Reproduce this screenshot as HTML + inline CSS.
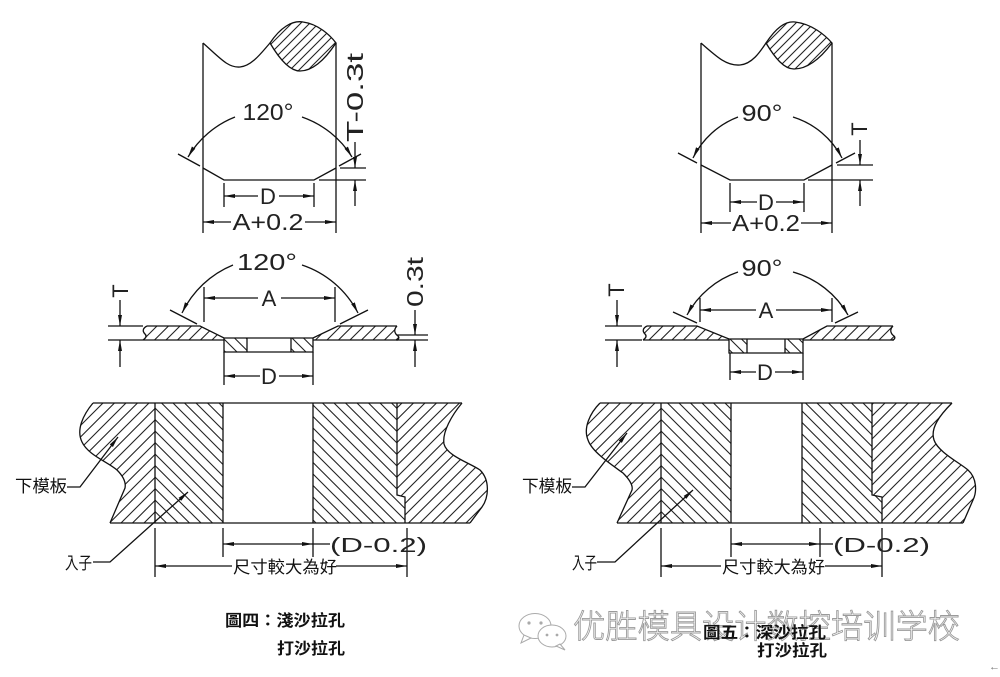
<!DOCTYPE html>
<html><head><meta charset="utf-8">
<style>
html,body{margin:0;padding:0;background:#fff;}
svg{display:block;}
</style></head><body>
<svg width="1000" height="677" viewBox="0 0 1000 677" xmlns="http://www.w3.org/2000/svg">
<defs>
<pattern id="hf" width="11.5" height="11.5" patternUnits="userSpaceOnUse">
<path d="M0,11.5 L11.5,0 M-2,2 L2,-2 M9.5,13.5 L13.5,9.5" stroke="#222" stroke-width="1.1" fill="none"/>
</pattern>
<pattern id="hb" width="11.5" height="11.5" patternUnits="userSpaceOnUse">
<path d="M0,0 L11.5,11.5 M-2,9.5 L2,13.5 M9.5,-2 L13.5,2" stroke="#222" stroke-width="1.1" fill="none"/>
</pattern>
<pattern id="hs" width="9" height="9" patternUnits="userSpaceOnUse">
<path d="M0,9 L9,0 M-2,2 L2,-2 M7,11 L11,7" stroke="#222" stroke-width="1.1" fill="none"/>
</pattern>
<marker id="a" markerUnits="userSpaceOnUse" markerWidth="12" markerHeight="6" refX="11" refY="3" orient="auto-start-reverse" viewBox="0 0 12 6">
<path d="M0,1 L11,3 L0,5 z" fill="#111"/>
</marker>
</defs>

<!-- ============ TOP LEFT ============ -->
<g fill="none" stroke="#111" stroke-width="1.3">
<path d="M203,43 L203,233 M336,43 L336,233"/>
<path d="M203,43 C220,58 228,68 240,67 C252,66 262,52 270,43"/>
<path d="M270,43 C280,28 292,20 303,22 C318,24 330,35 336,43 C328,55 315,71 300,71 C290,71 280,60 270,43 Z" fill="url(#hs)"/>
<path d="M203,168 L224,180 L314,180 L336,168"/>
<path d="M200,166 L178,154 M339,166 L361,154"/>
<path d="M340,168 L366,168 M319,180 L366,180"/>
<path d="M355,142 L355,168" marker-end="url(#a)"/>
<path d="M355,206 L355,180" marker-end="url(#a)"/>
<path d="M224,183 L224,207 M314,183 L314,207"/>
<path d="M258,196 L224,196" marker-end="url(#a)"/>
<path d="M279,196 L314,196" marker-end="url(#a)"/>
<path d="M231,222 L203,222" marker-end="url(#a)"/>
<path d="M305,222 L336,222" marker-end="url(#a)"/>
<path d="M235,117 A95.4,95.4 0 0 0 188,157" marker-end="url(#a)"/>
<path d="M302,117 A95.4,95.4 0 0 1 352,157" marker-end="url(#a)"/>
</g>

<!-- ============ TOP RIGHT ============ -->
<g fill="none" stroke="#111" stroke-width="1.3">
<path d="M701,43 L701,233 M832,43 L832,233"/>
<path d="M701,43 C718,58 727,66 740,65 C752,64 760,52 766,43"/>
<path d="M766,43 C776,28 785,21 795,22 C812,24 825,35 832,43 C823,55 810,69 794,69 C784,69 775,58 766,43 Z" fill="url(#hs)"/>
<path d="M701,165 L730,180 L804,180 L832,165"/>
<path d="M697,163 L678,153 M836,163 L855,153"/>
<path d="M837,165 L873,165 M808,180 L873,180"/>
<path d="M860,140 L860,165" marker-end="url(#a)"/>
<path d="M860,206 L860,180" marker-end="url(#a)"/>
<path d="M730,183 L730,212 M804,183 L804,212"/>
<path d="M757,202 L730,202" marker-end="url(#a)"/>
<path d="M776,202 L804,202" marker-end="url(#a)"/>
<path d="M731,223 L701,223" marker-end="url(#a)"/>
<path d="M801,223 L832,223" marker-end="url(#a)"/>
<path d="M738,117 A83,83 0 0 0 693,158" marker-end="url(#a)"/>
<path d="M793,117 A83,83 0 0 1 842,158" marker-end="url(#a)"/>
</g>

<!-- ============ MIDDLE LEFT ============ -->
<path d="M147,326 L200,326 L224,338 L224,340 L143,340 C146,338 147,336 145,334 C142,331 143,328 147,326 Z" fill="url(#hf)"/>
<path d="M338,326 L397,326 C393,330 395,334 398,336 C400,338 398,340 396,340 L313,340 L313,338 Z" fill="url(#hf)"/>
<rect x="224" y="338" width="23" height="14" fill="url(#hb)"/>
<rect x="291" y="338" width="22" height="14" fill="url(#hb)"/>
<g fill="none" stroke="#111" stroke-width="1.3">
<path d="M147,326 L200,326 L224,338 L313,338 L338,326 L397,326"/>
<path d="M143,340 L224,340 M313,340 L398,340"/>
<path d="M147,326 C143,328 142,331 145,334 C147,336 146,338 143,340"/>
<path d="M397,326 C393,330 395,334 398,336 C400,338 398,340 396,340"/>
<path d="M224,338 L224,352 L313,352 L313,338 M247,338 L247,352 M291,338 L291,352"/>
<path d="M108,326 L143,326 M108,340 L143,340"/>
<path d="M120,300 L120,326" marker-end="url(#a)"/>
<path d="M120,367 L120,340" marker-end="url(#a)"/>
<path d="M397,335 L428,335 M397,340 L428,340"/>
<path d="M415,310 L415,335" marker-end="url(#a)"/>
<path d="M415,367 L415,340" marker-end="url(#a)"/>
<path d="M204,287 L204,322 M335,287 L335,322"/>
<path d="M258,298 L204,298" marker-end="url(#a)"/>
<path d="M281,298 L335,298" marker-end="url(#a)"/>
<path d="M197,324 L170,310 M340,324 L368,310"/>
<path d="M233,265 A97.7,97.7 0 0 0 182,313" marker-end="url(#a)"/>
<path d="M302,265 A97.7,97.7 0 0 1 358,313" marker-end="url(#a)"/>
<path d="M224,352 L224,385 M313,352 L313,385"/>
<path d="M260,376 L224,376" marker-end="url(#a)"/>
<path d="M279,376 L313,376" marker-end="url(#a)"/>
</g>

<!-- ============ MIDDLE RIGHT ============ -->
<path d="M647,326 L697,326 L729,339 L729,340 L643,340 C646,338 647,336 645,334 C642,331 643,328 647,326 Z" fill="url(#hf)"/>
<path d="M827,326 L893,326 C889,330 891,334 894,336 C896,338 894,340 892,340 L803,340 L803,339 Z" fill="url(#hf)"/>
<rect x="729" y="339" width="18" height="14" fill="url(#hb)"/>
<rect x="785" y="339" width="18" height="14" fill="url(#hb)"/>
<g fill="none" stroke="#111" stroke-width="1.3">
<path d="M647,326 L697,326 L729,339 L803,339 L827,326 L893,326"/>
<path d="M643,340 L729,340 M803,340 L894,340"/>
<path d="M647,326 C643,328 642,331 645,334 C647,336 646,338 643,340"/>
<path d="M893,326 C889,330 891,334 894,336 C896,338 894,340 892,340"/>
<path d="M729,339 L729,353 L803,353 L803,339 M747,339 L747,353 M785,339 L785,353"/>
<path d="M605,326 L642,326 M605,340 L642,340"/>
<path d="M617,300 L617,326" marker-end="url(#a)"/>
<path d="M617,367 L617,340" marker-end="url(#a)"/>
<path d="M700,298 L700,322 M832,298 L832,322"/>
<path d="M756,310 L700,310" marker-end="url(#a)"/>
<path d="M776,310 L832,310" marker-end="url(#a)"/>
<path d="M697,323 L673,312 M835,323 L858,312"/>
<path d="M738,272 A91.6,91.6 0 0 0 687,315" marker-end="url(#a)"/>
<path d="M793,272 A91.6,91.6 0 0 1 848,315" marker-end="url(#a)"/>
<path d="M730,353 L730,380 M803,353 L803,380"/>
<path d="M756,372 L730,372" marker-end="url(#a)"/>
<path d="M775,372 L803,372" marker-end="url(#a)"/>
</g>

<!-- ============ BOTTOM LEFT ============ -->
<path d="M93,403 C83,415 76,430 82,442 C88,455 108,462 117,470 C124,477 126,483 125,488 L110,523 L155,523 L155,403 Z" fill="url(#hf)"/>
<rect x="155" y="403" width="68" height="120" fill="url(#hb)"/>
<path d="M313,403 L397,403 L397,495 L405,497 L405,523 L313,523 Z" fill="url(#hb)"/>
<path d="M397,403 L462,403 C452,415 442,432 444,444 C447,456 470,463 480,470 C490,480 489,497 482,507 L470,523 L405,523 L405,497 L397,495 Z" fill="url(#hf)"/>
<g fill="none" stroke="#111" stroke-width="1.3">
<path d="M93,403 L462,403 M110,523 L470,523"/>
<path d="M93,403 C83,415 76,430 82,442 C88,455 108,462 117,470 C124,477 126,483 125,488 L110,523"/>
<path d="M462,403 C452,415 442,432 444,444 C447,456 470,463 480,470 C490,480 489,497 482,507 L470,523"/>
<path d="M155,403 L155,523 M223,403 L223,523 M313,403 L313,523"/>
<path d="M397,403 L397,495 L405,497 L405,523"/>
<path d="M67,487 L80,487 L118,437" marker-end="url(#a)"/>
<path d="M93,562 L110,562 L188,492" marker-end="url(#a)"/>
<path d="M223,528 L223,557 M313,528 L313,557"/>
<path d="M268,544 L223,544" marker-end="url(#a)"/>
<path d="M268,544 L313,544" marker-end="url(#a)"/>
<path d="M313,544 L330,544"/>
<path d="M155,528 L155,577 M407,528 L407,577"/>
<path d="M232,566 L155,566" marker-end="url(#a)"/>
<path d="M336,566 L407,566" marker-end="url(#a)"/>
</g>

<!-- ============ BOTTOM RIGHT ============ -->
<path d="M600,403 C590,413 583,428 588,440 C592,452 612,465 623,473 C630,480 633,486 632,490 L617,523 L661,523 L661,403 Z" fill="url(#hf)"/>
<rect x="661" y="403" width="70" height="120" fill="url(#hb)"/>
<path d="M802,403 L872,403 L872,495 L882,497 L882,523 L802,523 Z" fill="url(#hb)"/>
<path d="M872,403 L952,403 C940,415 930,428 934,440 C938,452 960,463 968,470 C977,478 977,492 973,500 L963,523 L882,523 L882,497 L872,495 Z" fill="url(#hf)"/>
<g fill="none" stroke="#111" stroke-width="1.3">
<path d="M600,403 L952,403 M617,523 L963,523"/>
<path d="M600,403 C590,413 583,428 588,440 C592,452 612,465 623,473 C630,480 633,486 632,490 L617,523"/>
<path d="M952,403 C940,415 930,428 934,440 C938,452 960,463 968,470 C977,478 977,492 973,500 L963,523"/>
<path d="M661,403 L661,523 M731,403 L731,523 M802,403 L802,523"/>
<path d="M872,403 L872,495 L882,497 L882,523"/>
<path d="M572,487 L585,487 L627,433" marker-end="url(#a)"/>
<path d="M597,562 L615,562 L693,490" marker-end="url(#a)"/>
<path d="M731,528 L731,557 M820,528 L820,557"/>
<path d="M776,544 L731,544" marker-end="url(#a)"/>
<path d="M776,544 L820,544" marker-end="url(#a)"/>
<path d="M820,544 L833,544"/>
<path d="M661,528 L661,577 M882,528 L882,577"/>
<path d="M721,566 L661,566" marker-end="url(#a)"/>
<path d="M825,566 L882,566" marker-end="url(#a)"/>
</g>

<!-- ============ DIMENSION TEXT ============ -->
<g font-family="Liberation Sans, sans-serif" fill="#222" font-size="23" text-anchor="middle">
<text x="268" y="120" textLength="51" lengthAdjust="spacingAndGlyphs">120°</text>
<text x="268" y="204" font-size="22">D</text>
<text x="268" y="230" textLength="71" lengthAdjust="spacingAndGlyphs">A+0.2</text>
<text transform="translate(363,97.5) rotate(-90)" x="0" y="0" textLength="89" lengthAdjust="spacingAndGlyphs">T-0.3t</text>

<text x="762" y="121" textLength="41" lengthAdjust="spacingAndGlyphs">90°</text>
<text x="766" y="210" font-size="22">D</text>
<text x="766" y="231" textLength="68" lengthAdjust="spacingAndGlyphs">A+0.2</text>
<text transform="translate(867,129) rotate(-90)" x="0" y="0" font-size="22">T</text>

<text x="267" y="270" textLength="60" lengthAdjust="spacingAndGlyphs">120°</text>
<text x="269" y="306" font-size="22">A</text>
<text transform="translate(128,291) rotate(-90)" x="0" y="0" font-size="22">T</text>
<text transform="translate(423,282) rotate(-90)" x="0" y="0" textLength="50" lengthAdjust="spacingAndGlyphs">0.3t</text>
<text x="269" y="384" font-size="22">D</text>

<text x="762" y="276" textLength="41" lengthAdjust="spacingAndGlyphs">90°</text>
<text x="766" y="318" font-size="22">A</text>
<text transform="translate(624,290) rotate(-90)" x="0" y="0" font-size="22">T</text>
<text x="765" y="380" font-size="22">D</text>
</g>

<g font-family="Liberation Sans, sans-serif" fill="#222" font-size="20">
<text x="330" y="552" textLength="97" lengthAdjust="spacingAndGlyphs">(D-0.2)</text>
<text x="833" y="552" textLength="97" lengthAdjust="spacingAndGlyphs">(D-0.2)</text>
</g>

<g font-family="Liberation Sans, 'Noto Sans CJK TC', 'Noto Sans CJK SC', sans-serif" fill="#111" font-size="17">
<text x="233" y="573" textLength="104" lengthAdjust="spacingAndGlyphs">尺寸較大為好</text>
<text x="722" y="573" textLength="103" lengthAdjust="spacingAndGlyphs">尺寸較大為好</text>
<text x="15" y="492" textLength="52" lengthAdjust="spacingAndGlyphs">下模板</text>
<text x="65" y="569" textLength="27" lengthAdjust="spacingAndGlyphs">入子</text>
<text x="522" y="492" textLength="50" lengthAdjust="spacingAndGlyphs">下模板</text>
<text x="572" y="569" textLength="25" lengthAdjust="spacingAndGlyphs">入子</text>
</g>

<!-- ============ WATERMARK ============ -->
<g fill="#fff" stroke="#aaa" stroke-width="1">
<ellipse cx="535" cy="626" rx="16" ry="12.5"/>
<path d="M524,635 L521,643 L531,638 Z"/>
<ellipse cx="552" cy="636" rx="14" ry="11"/>
<path d="M560,644 L565,650 L556,646 Z"/>
</g>
<g fill="#aaa">
<circle cx="529" cy="623" r="1.6"/><circle cx="541" cy="623" r="1.6"/>
<circle cx="547" cy="635" r="1.4"/><circle cx="557" cy="635" r="1.4"/>
</g>
<text x="573" y="638" font-family="'Noto Sans CJK SC', 'WenQuanYi Zen Hei', sans-serif" font-size="33" font-weight="300" fill="#fff" stroke="#9a9a9a" stroke-width="0.9" textLength="387" lengthAdjust="spacingAndGlyphs">优胜模具设计数控培训学校</text>

<!-- ============ CAPTIONS ============ -->
<g font-family="Liberation Sans, 'Noto Sans CJK TC', 'Noto Sans CJK SC', sans-serif" fill="#111" font-size="16" font-weight="bold">
<text x="225" y="626" textLength="120" lengthAdjust="spacingAndGlyphs">圖四：淺沙拉孔</text>
<text x="277" y="654" textLength="68" lengthAdjust="spacingAndGlyphs">打沙拉孔</text>
<text x="703" y="638" textLength="123" lengthAdjust="spacingAndGlyphs">圖五：深沙拉孔</text>
<text x="757" y="656" textLength="70" lengthAdjust="spacingAndGlyphs">打沙拉孔</text>
</g>

<text x="989" y="670" font-family="Liberation Sans, sans-serif" font-size="11" fill="#777">←</text>
</svg>
</body></html>
